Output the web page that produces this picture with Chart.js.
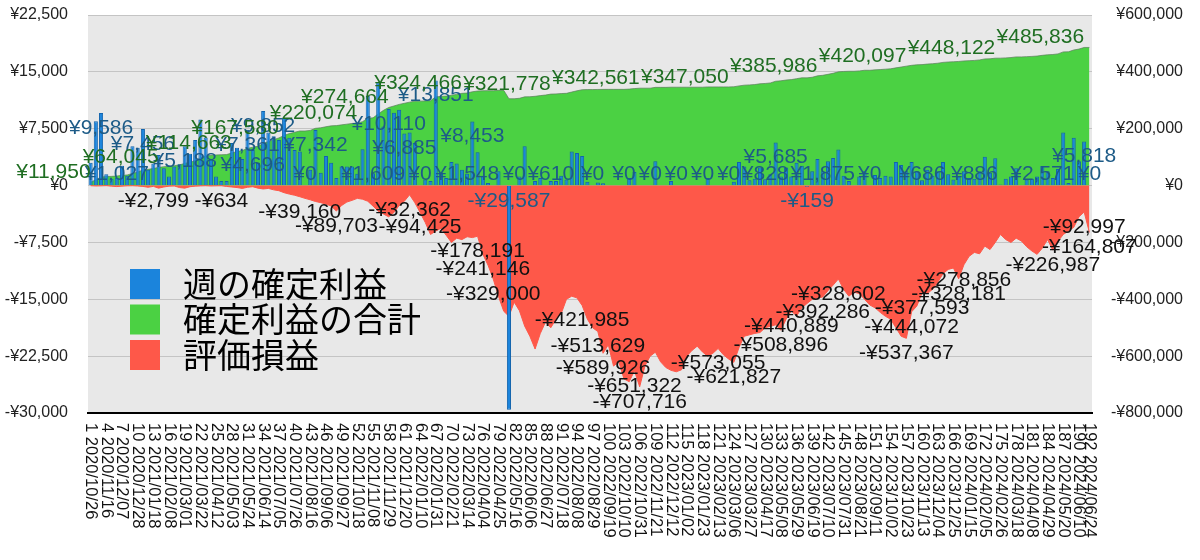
<!DOCTYPE html>
<html><head><meta charset="utf-8">
<script src="https://cdn.jsdelivr.net/npm/chart.js@4.4.1/dist/chart.umd.min.js"></script>
<style>html,body{margin:0;padding:0;background:#fff;}#wrap{width:1200px;height:560px;}</style>
</head><body><div id="wrap"><canvas id="c" width="1200" height="560"></canvas></div>
<script>
const categories = ["1 2020/10/26","2 2020/11/02","3 2020/11/09","4 2020/11/16","5 2020/11/23","6 2020/11/30","7 2020/12/07","8 2020/12/14","9 2020/12/21","10 2020/12/28",
"11 2021/01/04","12 2021/01/11","13 2021/01/18","14 2021/01/25","15 2021/02/01","16 2021/02/08","17 2021/02/15","18 2021/02/22","19 2021/03/01","20 2021/03/08",
"21 2021/03/15","22 2021/03/22","23 2021/03/29","24 2021/04/05","25 2021/04/12","26 2021/04/19","27 2021/04/26","28 2021/05/03","29 2021/05/10","30 2021/05/17",
"31 2021/05/24","32 2021/05/31","33 2021/06/07","34 2021/06/14","35 2021/06/21","36 2021/06/28","37 2021/07/05","38 2021/07/12","39 2021/07/19","40 2021/07/26",
"41 2021/08/02","42 2021/08/09","43 2021/08/16","44 2021/08/23","45 2021/08/30","46 2021/09/06","47 2021/09/13","48 2021/09/20","49 2021/09/27","50 2021/10/04",
"51 2021/10/11","52 2021/10/18","53 2021/10/25","54 2021/11/01","55 2021/11/08","56 2021/11/15","57 2021/11/22","58 2021/11/29","59 2021/12/06","60 2021/12/13",
"61 2021/12/20","62 2021/12/27","63 2022/01/03","64 2022/01/10","65 2022/01/17","66 2022/01/24","67 2022/01/31","68 2022/02/07","69 2022/02/14","70 2022/02/21",
"71 2022/02/28","72 2022/03/07","73 2022/03/14","74 2022/03/21","75 2022/03/28","76 2022/04/04","77 2022/04/11","78 2022/04/18","79 2022/04/25","80 2022/05/02",
"81 2022/05/09","82 2022/05/16","83 2022/05/23","84 2022/05/30","85 2022/06/06","86 2022/06/13","87 2022/06/20","88 2022/06/27","89 2022/07/04","90 2022/07/11",
"91 2022/07/18","92 2022/07/25","93 2022/08/01","94 2022/08/08","95 2022/08/15","96 2022/08/22","97 2022/08/29","98 2022/09/05","99 2022/09/12","100 2022/09/19",
"101 2022/09/26","102 2022/10/03","103 2022/10/10","104 2022/10/17","105 2022/10/24","106 2022/10/31","107 2022/11/07","108 2022/11/14","109 2022/11/21","110 2022/11/28",
"111 2022/12/05","112 2022/12/12","113 2022/12/19","114 2022/12/26","115 2023/01/02","116 2023/01/09","117 2023/01/16","118 2023/01/23","119 2023/01/30","120 2023/02/06",
"121 2023/02/13","122 2023/02/20","123 2023/02/27","124 2023/03/06","125 2023/03/13","126 2023/03/20","127 2023/03/27","128 2023/04/03","129 2023/04/10","130 2023/04/17",
"131 2023/04/24","132 2023/05/01","133 2023/05/08","134 2023/05/15","135 2023/05/22","136 2023/05/29","137 2023/06/05","138 2023/06/12","139 2023/06/19","140 2023/06/26",
"141 2023/07/03","142 2023/07/10","143 2023/07/17","144 2023/07/24","145 2023/07/31","146 2023/08/07","147 2023/08/14","148 2023/08/21","149 2023/08/28","150 2023/09/04",
"151 2023/09/11","152 2023/09/18","153 2023/09/25","154 2023/10/02","155 2023/10/09","156 2023/10/16","157 2023/10/23","158 2023/10/30","159 2023/11/06","160 2023/11/13",
"161 2023/11/20","162 2023/11/27","163 2023/12/04","164 2023/12/11","165 2023/12/18","166 2023/12/25","167 2024/01/01","168 2024/01/08","169 2024/01/15","170 2024/01/22",
"171 2024/01/29","172 2024/02/05","173 2024/02/12","174 2024/02/19","175 2024/02/26","176 2024/03/04","177 2024/03/11","178 2024/03/18","179 2024/03/25","180 2024/04/01",
"181 2024/04/08","182 2024/04/15","183 2024/04/22","184 2024/04/29","185 2024/05/06","186 2024/05/13","187 2024/05/20","188 2024/05/27","189 2024/06/03","190 2024/06/10",
"191 2024/06/17","192 2024/06/24"];

const weekly = [
3000,8500,9586,1500,900,1027,2600,1300,5200,5000,
7456,2100,2900,4026,2300,1200,2500,2800,5188,4200,
6000,8700,6330,3400,1200,600,600,5600,5000,3500,
7361,4696,3000,9852,7000,6500,6008,8900,6300,4700,
4500,0,2100,7342,1700,3900,3000,1000,2500,2500,
2500,1552,4800,11800,1609,13600,7800,10110,9600,10000,
6885,7000,5600,0,800,600,13851,1700,1000,3100,
2900,2100,1548,8453,4400,1300,350,0,1900,0,
-29587,0,1200,5200,0,600,1000,0,610,600,
1300,800,4500,4300,3900,500,0,400,300,0,
0,0,0,1000,1800,0,0,0,3200,0,
0,600,0,0,0,0,0,0,1000,0,
0,0,0,500,3100,2500,700,900,2400,828,
1500,5685,1200,2400,1200,3000,2600,-159,1900,3500,
1875,3200,3650,4750,1300,600,0,1200,1900,0,
1400,1000,1300,1200,3100,2700,1900,3100,1900,686,
2100,1300,1900,3100,1500,800,1200,1900,1000,886,
1900,3800,1700,3600,150,900,1200,2300,0,800,
900,1200,2571,1900,1000,2200,7000,350,6300,3200,
5818,0];

const cumulative = [
11950,20450,30036,31536,32436,33463,36063,37363,42563,47563,
55019,57119,60019,64045,66345,67545,70045,72845,78033,82233,
88233,96933,103263,106663,107863,108463,109063,114663,119663,123163,
130524,135220,138220,148072,155072,161572,167580,176480,182780,187480,
191980,191980,194080,201422,203122,207022,210022,211022,213522,216022,
218522,220074,224874,236674,238283,251883,264554,274664,280000,285500,
289500,293500,297000,297000,297800,298400,312000,313700,314700,317800,
320700,324466,325500,330000,332500,333500,333800,333800,335000,335000,
305413,305413,307000,312000,312500,314000,316500,318500,321778,322388,
323688,324488,328988,333288,337188,337688,337688,338088,338388,338388,
338388,338388,338388,339388,341188,342561,342561,342561,345461,345461,
345461,346050,346050,346050,346050,346050,346050,346050,347050,347050,
347050,347050,347050,347550,350650,353150,354150,355350,358050,359178,
361000,367000,368500,371200,372700,376000,379000,378841,381000,385986,
387861,391200,395000,400000,401400,402100,402100,403400,405500,405500,
407000,408100,409500,410800,414100,417000,420097,423000,424800,425486,
427400,428600,430400,433300,434700,435500,436600,438400,439300,440186,
442000,445500,446000,448122,448272,449172,450372,452672,452672,453472,
454372,455572,458143,460043,461043,463243,470243,470593,476893,480093,
485836,485836];

const unrealized = [
-500,-1500,-1000,-300,-2000,-3500,-2000,-1000,-600,-1500,
-3000,-6000,-2799,-9000,-5000,-2000,-1500,-7000,-9000,-4000,
-2000,-1200,-600,-1500,-1000,-634,-3000,-5000,-7000,-10000,
-6000,-4000,-9000,-12000,-10000,-15000,-18000,-25000,-30000,-34000,
-39160,-45000,-50000,-56000,-60000,-65000,-72000,-89703,-70000,-58000,
-52000,-45000,-48000,-55000,-72000,-90000,-100000,-110000,-95000,-70000,
-55000,-32362,-60000,-94425,-130000,-172000,-160000,-150000,-175000,-200000,
-185000,-190000,-180000,-183000,-178191,-241146,-280000,-329000,-390000,-442000,
-460000,-410000,-440000,-494000,-530000,-575000,-520000,-480000,-500000,-470000,
-450000,-400000,-389000,-395000,-421985,-470000,-500000,-513629,-589926,-560000,
-635000,-620000,-680000,-690000,-651322,-707716,-635000,-600000,-586000,-620000,
-640000,-650000,-655000,-648000,-600000,-580000,-565000,-585000,-600000,-590000,
-573055,-595000,-610000,-621827,-570000,-530000,-525000,-520000,-517000,-500000,
-495000,-490000,-508896,-470000,-440889,-459000,-430000,-415000,-400000,-395000,
-392286,-370000,-350000,-328602,-365000,-389000,-375000,-380000,-400000,-420000,
-430000,-446000,-460000,-470000,-500000,-530000,-537367,-444072,-424000,-377593,
-380000,-365000,-340000,-310000,-295000,-290000,-328181,-278856,-249000,-235000,
-240000,-213000,-225000,-200000,-172000,-190000,-200000,-185000,-195000,-215000,
-230000,-242000,-220000,-190000,-226987,-196000,-172000,-160000,-147000,-110000,
-92997,-164807];

// weeks (1-based) whose values are printed on the chart
const weeklyLabelWeeks = [3,6,11,19,31,32,34,42,44,55,58,61,64,67,73,74,81,82,89,97,103,108,113,118,123,130,132,138,141,150,160,170,183,191,192];
const cumulativeLabelWeeks = [1,14,28,37,52,58,72,89,106,123,140,157,174,191];
const unrealizedLabelWeeks = [13,26,41,48,62,64,75,76,78,95,98,99,105,106,121,124,133,135,141,144,157,158,160,167,168,185,191,192];

const seriesNames = ["週の確定利益","確定利益の合計","評価損益"];

const FONT = "'Liberation Sans', Arial, Helvetica, sans-serif";
const JFONT = "'Noto Sans CJK JP', 'Noto Sans', sans-serif";
const C_BLUE = '#1b84dc', C_GREEN = '#4bd143', C_RED = '#fe5849';

function fmt(v){ const s = Math.abs(v).toLocaleString('en-US'); return (v < 0 ? '-' : '') + '¥' + s; }

const bgPlugin = {
  id: 'bg',
  beforeDraw(chart){
    const {ctx, chartArea:a} = chart;
    ctx.save(); ctx.fillStyle = '#e8e8e8';
    ctx.fillRect(a.left, a.top, a.right - a.left, a.bottom - a.top);
    ctx.restore();
  }
};

const valueLabels = {
  id: 'valueLabels',
  afterDatasetsDraw(chart){
    const ctx = chart.ctx;
    const z = chart.scales.y.getPixelForValue(0);
    ctx.save();
    ctx.font = '21px ' + FONT;
    ctx.textBaseline = 'middle';
    const mb = chart.getDatasetMeta(0);
    ctx.fillStyle = '#1d5b87'; ctx.textAlign = 'center';
    weeklyLabelWeeks.forEach(w => {
      const el = mb.data[w-1], v = weekly[w-1];
      const cy = v >= 0 ? Math.min(el.y + 15, z - 11) : z + 16;
      ctx.fillText(fmt(v), el.x, cy);
    });
    const mg = chart.getDatasetMeta(1);
    ctx.fillStyle = '#1f6e22'; ctx.textAlign = 'right';
    cumulativeLabelWeeks.forEach(w => {
      const el = mg.data[w-1];
      ctx.fillText(fmt(cumulative[w-1]), el.x, el.y - 10);
    });
    const mr = chart.getDatasetMeta(2);
    ctx.fillStyle = '#111'; ctx.textAlign = 'center';
    unrealizedLabelWeeks.forEach(w => {
      const el = mr.data[w-1];
      ctx.fillText(fmt(unrealized[w-1]), el.x, el.y + 15);
    });
    ctx.restore();
  }
};

const xLabels = {
  id: 'xLabels',
  afterDraw(chart){
    const ctx = chart.ctx, xs = chart.scales.x;
    ctx.save();
    ctx.font = '16.5px ' + FONT; ctx.fillStyle = '#111';
    ctx.textAlign = 'left'; ctx.textBaseline = 'middle';
    categories.forEach((lab, i) => {
      if (i % 3 !== 0 && i !== categories.length - 1) return;
      const x = xs.getPixelForValue(i);
      ctx.save(); ctx.translate(x, xs.top + 10); ctx.rotate(Math.PI/2);
      ctx.fillText(lab, 0, 0); ctx.restore();
    });
    ctx.restore();
  }
};

const innerLegend = {
  id: 'innerLegend',
  afterDraw(chart){
    const ctx = chart.ctx, a = chart.chartArea;
    ctx.save();
    ctx.font = '34px ' + JFONT; ctx.textBaseline = 'middle'; ctx.textAlign = 'left';
    chart.data.datasets.forEach((d, i) => {
      const y = 269 + i * 35.5;
      ctx.fillStyle = d.legendColor;
      ctx.fillRect(a.left + 42, y, 30, 30);
      ctx.fillStyle = '#000';
      ctx.fillText(d.label, a.left + 95, y + 15);
    });
    ctx.restore();
  }
};

function fitY(w){ return function(s){ s.width = w; s.paddingTop = 0; s.paddingBottom = 0; }; }

new Chart(document.getElementById('c'), {
  type: 'bar',
  data: {
    labels: categories,
    datasets: [
      { type:'bar', label: seriesNames[0], data: weekly, yAxisID:'y', order:0,
        backgroundColor: C_BLUE, borderColor:'#1264ad', borderWidth:1,
        barPercentage:0.78, categoryPercentage:1.0, legendColor: C_BLUE },
      { type:'line', label: seriesNames[1], data: cumulative, yAxisID:'y2', order:2,
        backgroundColor: C_GREEN, borderColor:'rgba(90,125,90,0.7)', borderWidth:1,
        fill:'origin', pointRadius:0, tension:0, legendColor: C_GREEN },
      { type:'line', label: seriesNames[2], data: unrealized, yAxisID:'y2', order:1,
        backgroundColor: C_RED, borderColor: C_RED, borderWidth:1,
        fill:'origin', pointRadius:0, tension:0, legendColor: C_RED }
    ]
  },
  options: {
    responsive:false, animation:false,
    layout:{ padding:{ left:0, right:17, top:15, bottom:0 } },
    plugins:{ legend:{ display:false }, tooltip:{ enabled:false } },
    scales:{
      x:{ type:'category', offset:true,
          grid:{ display:false, drawTicks:false },
          border:{ display:true, color:'#000', width:2 },
          ticks:{ display:false },
          afterFit(s){ s.height = 147; s.paddingLeft = 0; s.paddingRight = 0; } },
      y:{ position:'left', min:-30000, max:22500,
          ticks:{ stepSize:7500, padding:20, color:'#222', font:{ family:FONT, size:16 }, callback:v => fmt(v) },
          grid:{ color:'#c4c4c4', lineWidth:1, drawTicks:false },
          border:{ display:false },
          afterFit: fitY(88) },
      y2:{ position:'right', min:-800000, max:600000,
          ticks:{ stepSize:200000, crossAlign:'far', color:'#222', font:{ family:FONT, size:16 }, callback:v => fmt(v) },
          grid:{ display:false, drawTicks:false },
          border:{ display:false },
          afterFit: fitY(91) }
    }
  },
  plugins:[bgPlugin, valueLabels, xLabels, innerLegend]
});
</script></body></html>
